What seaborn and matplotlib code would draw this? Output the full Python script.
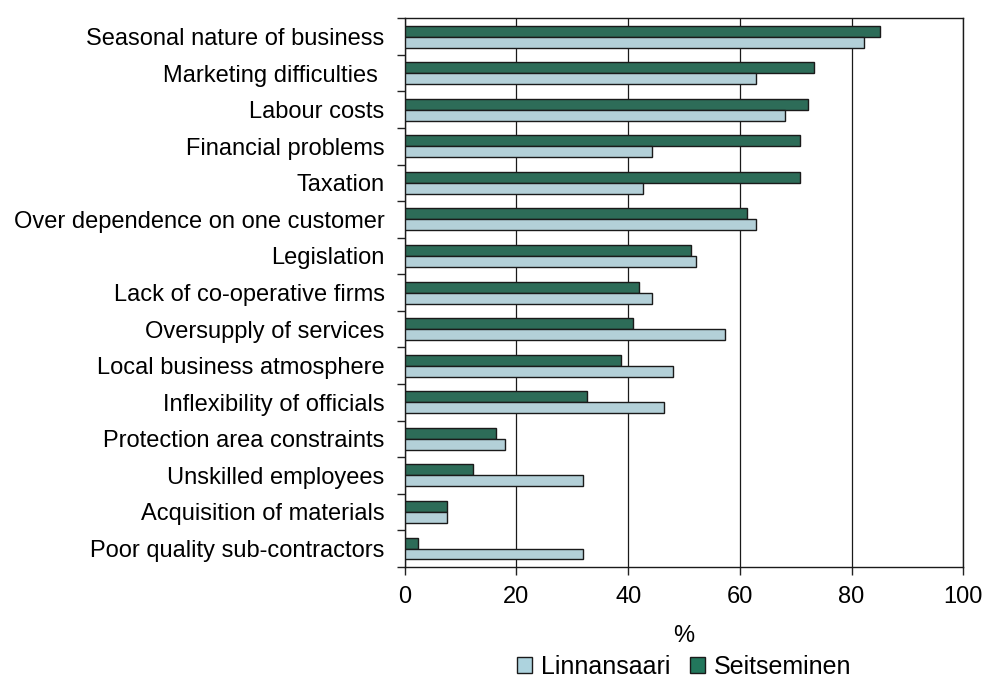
import matplotlib
matplotlib.use("Agg")
import matplotlib.pyplot as plt
from matplotlib.patches import Patch
import numpy as np
import pandas as pd
import seaborn as sns

categories = [
    "Seasonal nature of business",
    "Marketing difficulties ",
    "Labour costs",
    "Financial problems",
    "Taxation",
    "Over dependence on one customer",
    "Legislation",
    "Lack of co-operative firms",
    "Oversupply of services",
    "Local business atmosphere",
    "Inflexibility of officials",
    "Protection area constraints",
    "Unskilled employees",
    "Acquisition of materials",
    "Poor quality sub-contractors",
]
seitseminen = [85.1, 73.3, 72.2, 70.7, 70.7, 61.3, 51.3, 42.0, 40.9, 38.7, 32.7, 16.4, 12.3, 7.5, 2.3]
linnansaari = [82.2, 62.9, 68.1, 44.2, 42.7, 62.9, 52.1, 44.3, 57.4, 48.0, 46.5, 17.9, 32.0, 7.5, 32.0]
x_ticks = [0, 20, 40, 60, 80, 100]

site_colors = {"Linnansaari": "#ADD3DE", "Seitseminen": "#22775C"}

df = pd.DataFrame({
    "Problem": categories * 2,
    "Share": seitseminen + linnansaari,
    "Site": ["Seitseminen"] * len(categories) + ["Linnansaari"] * len(categories),
})

sns.set_style("white")
plt.rcParams["font.family"] = ["Liberation Sans", "DejaVu Sans"]
plt.rcParams["text.color"] = "black"
plt.rcParams["xtick.color"] = "black"
plt.rcParams["ytick.color"] = "black"
plt.rcParams["axes.labelcolor"] = "black"

fig = plt.figure(figsize=(9.87, 6.78), dpi=100)
ax = fig.add_axes([0.410, 0.164, 0.566, 0.809])

sns.barplot(
    data=df, x="Share", y="Problem", hue="Site",
    order=categories, hue_order=["Seitseminen", "Linnansaari"],
    palette=site_colors, orient="h", width=0.6,
    edgecolor="#1a1a1a", linewidth=1.0, legend=False, ax=ax, zorder=3,
)

n = len(categories)
ax.set_xlim(0, 100)
ax.set_ylim(n - 0.5, -0.5)
ax.set_xticks(x_ticks)
ax.set_xticklabels([str(t) for t in x_ticks], fontsize=17)
ax.xaxis.grid(True, color="#1a1a1a", linewidth=0.9, zorder=0)
ax.yaxis.grid(False)

# category labels centred on bands, tick marks on band boundaries
ax.set_yticks(np.arange(-0.5, n, 1.0))
ax.set_yticklabels([])
ax.set_yticks(np.arange(n), minor=True)
ax.set_yticklabels(categories, minor=True, fontsize=17)
ax.tick_params(axis="y", which="major", direction="out", length=6, width=1, color="#222222", left=True)
ax.tick_params(axis="y", which="minor", length=0, pad=14.4)
ax.tick_params(axis="x", direction="out", length=6, width=1, color="#222222", bottom=True, pad=8)

for side in ["left", "bottom", "top", "right"]:
    ax.spines[side].set_visible(True)
    ax.spines[side].set_color("#1a1a1a")
    ax.spines[side].set_linewidth(1.0)

ax.set_ylabel("")
ax.set_xlabel("%", fontsize=17, labelpad=12)

handles = [
    Patch(facecolor=site_colors["Linnansaari"], edgecolor="#1a1a1a", linewidth=1.0, label="Linnansaari"),
    Patch(facecolor=site_colors["Seitseminen"], edgecolor="#1a1a1a", linewidth=1.0, label="Seitseminen"),
]
fig.legend(
    handles=handles, loc="center", bbox_to_anchor=(0.693, 0.016), ncol=2,
    frameon=False, fontsize=18, handlelength=0.6, handleheight=0.6,
    handletextpad=0.36, columnspacing=0.8, borderpad=0, borderaxespad=0,
)

fig.savefig("out.png", dpi=100)
